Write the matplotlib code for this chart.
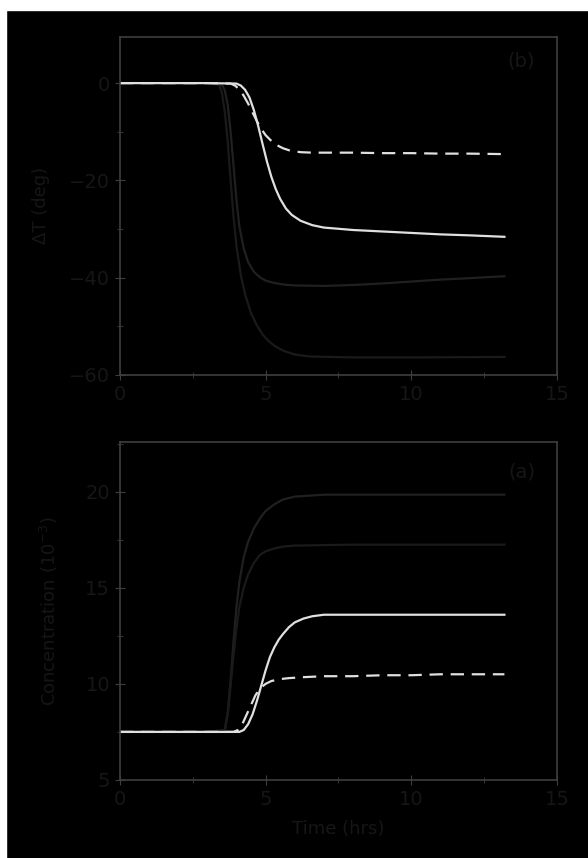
import matplotlib
matplotlib.use("Agg")
import matplotlib.pyplot as plt
from matplotlib.patches import Rectangle
from matplotlib.ticker import MultipleLocator

# top panel: temperature change (deg) vs time (hrs)
t_dash_a = [0, 1, 2, 3, 3.8, 3.95, 4.1, 4.25, 4.4, 4.55, 4.7, 4.85, 5.0, 5.2, 5.4, 5.6, 5.85, 6.2, 6.6, 7, 8, 9, 10, 11, 12, 13.2]
v_dash_a = [0, 0, 0, 0, -0.1, -0.5, -1.3, -2.6, -4.2, -6.0, -7.8, -9.4, -10.7, -11.9, -12.8, -13.4, -13.9, -14.2, -14.3, -14.3, -14.3, -14.4, -14.4, -14.5, -14.5, -14.6]
t_solid_a = [0, 1, 2, 3, 4.0, 4.15, 4.3, 4.45, 4.6, 4.75, 4.9, 5.05, 5.2, 5.35, 5.5, 5.7, 5.9, 6.2, 6.6, 7, 8, 9, 10, 11, 12, 13.2]
v_solid_a = [0, 0, 0, 0, -0.1, -0.5, -1.4, -3.0, -5.6, -8.9, -12.6, -16.2, -19.3, -21.8, -23.8, -25.8, -27.1, -28.3, -29.2, -29.7, -30.2, -30.5, -30.8, -31.1, -31.3, -31.6]
t_dark1_a = [0, 1, 2, 3, 3.5, 3.6, 3.7, 3.8, 3.9, 4.0, 4.1, 4.25, 4.4, 4.6, 4.8, 5.0, 5.3, 5.6, 6, 7, 8, 9, 10, 11, 12, 13.2]
v_dark1_a = [0, 0, 0, 0, -0.3, -1.5, -4.5, -10, -17, -24, -29.5, -34, -36.8, -38.8, -39.9, -40.6, -41.1, -41.4, -41.6, -41.7, -41.5, -41.2, -40.8, -40.4, -40.1, -39.7]
t_dark2_a = [0, 1, 2, 3, 3.4, 3.5, 3.6, 3.7, 3.8, 3.9, 4.0, 4.15, 4.3, 4.5, 4.7, 4.9, 5.1, 5.3, 5.6, 6, 6.5, 8, 10, 13.2]
v_dark2_a = [0, 0, 0, 0, -0.3, -2, -6, -12, -20, -27.5, -33.5, -39.5, -43.5, -47.3, -49.8, -51.7, -53.0, -54.0, -55.0, -55.8, -56.2, -56.4, -56.4, -56.3]

# bottom panel: concentration vs time (hrs)
t_dash_b = [0, 1, 2, 3, 3.9, 4.05, 4.2, 4.35, 4.5, 4.65, 4.8, 5.0, 5.2, 5.5, 5.8, 6.3, 7, 8, 9, 10, 11, 12, 13.2]
v_dash_b = [7.5, 7.5, 7.5, 7.5, 7.5, 7.6, 7.9, 8.4, 8.9, 9.4, 9.75, 10.0, 10.15, 10.25, 10.3, 10.35, 10.4, 10.4, 10.45, 10.45, 10.5, 10.5, 10.5]
t_solid_b = [0, 1, 2, 3, 4.1, 4.25, 4.4, 4.55, 4.7, 4.85, 5.0, 5.15, 5.3, 5.45, 5.6, 5.8, 6.0, 6.3, 6.6, 7, 8, 10, 12, 13.2]
v_solid_b = [7.5, 7.5, 7.5, 7.5, 7.5, 7.6, 7.9, 8.4, 9.1, 9.9, 10.7, 11.4, 11.9, 12.3, 12.6, 12.95, 13.2, 13.4, 13.52, 13.6, 13.6, 13.6, 13.6, 13.6]
t_dark1_b = [0, 1, 2, 3, 3.6, 3.7, 3.8, 3.9, 4.0, 4.1, 4.25, 4.4, 4.6, 4.8, 5.0, 5.3, 5.6, 6, 7, 9, 11, 13.2]
v_dark1_b = [7.5, 7.5, 7.5, 7.5, 7.6, 8.5, 10.2, 12.2, 14.0, 15.3, 16.6, 17.4, 18.1, 18.6, 19.0, 19.35, 19.6, 19.75, 19.85, 19.85, 19.85, 19.85]
t_dark2_b = [0, 1, 2, 3, 3.6, 3.7, 3.8, 3.9, 4.0, 4.1, 4.25, 4.4, 4.6, 4.8, 5.0, 5.3, 5.6, 6, 8, 10, 13.2]
v_dark2_b = [7.5, 7.5, 7.5, 7.5, 7.6, 8.4, 9.9, 11.5, 12.9, 14.0, 15.0, 15.7, 16.3, 16.7, 16.9, 17.05, 17.15, 17.2, 17.25, 17.25, 17.25]

text_col = "#161616"
spine_col = "#3e3e3e"
white = "#e0e0e0"

fig = plt.figure(figsize=(5.88, 8.58), dpi=100, facecolor="black")
fig.add_artist(Rectangle((0, 1 - 10 / 858), 1, 10 / 858, transform=fig.transFigure, color="white", zorder=10))
fig.add_artist(Rectangle((0, 0), 6 / 588, 1, transform=fig.transFigure, color="white", zorder=10))

ax1 = fig.add_axes([0.204, 0.563, 0.743, 0.394])
ax2 = fig.add_axes([0.204, 0.091, 0.743, 0.394])

ax1.plot(t_dark2_a, v_dark2_a, color="#1a1a1a", lw=1.6)
ax1.plot(t_dark1_a, v_dark1_a, color="#202020", lw=1.6)
ax1.plot(t_solid_a, v_solid_a, color=white, lw=1.6)
ax1.plot(t_dash_a, v_dash_a, color=white, lw=1.6, dashes=(6, 3.5))

ax2.plot(t_dark1_b, v_dark1_b, color="#202020", lw=1.6)
ax2.plot(t_dark2_b, v_dark2_b, color="#1a1a1a", lw=1.6)
ax2.plot(t_solid_b, v_solid_b, color=white, lw=1.6)
ax2.plot(t_dash_b, v_dash_b, color=white, lw=1.6, dashes=(6, 3.5))

ax1.set_ylim(-60, 9.5)
ax1.yaxis.set_major_locator(MultipleLocator(20))
ax1.yaxis.set_minor_locator(MultipleLocator(10))
ax1.set_ylabel("ΔT (deg)", color=text_col, fontsize=13, labelpad=14)
ax1.text(0.95, 0.93, "(b)", transform=ax1.transAxes, color=text_col, fontsize=14, ha="right", va="center")

ax2.set_ylim(5, 22.6)
ax2.yaxis.set_major_locator(MultipleLocator(5))
ax2.yaxis.set_minor_locator(MultipleLocator(2.5))
ax2.set_ylabel("Concentration (10$^{-3}$)", color=text_col, fontsize=13, labelpad=18)
ax2.set_xlabel("Time (hrs)", color=text_col, fontsize=13, labelpad=8)
ax2.text(0.95, 0.91, "(a)", transform=ax2.transAxes, color=text_col, fontsize=14, ha="right", va="center")

for ax in (ax1, ax2):
    ax.set_facecolor("black")
    ax.set_xlim(0, 15)
    ax.xaxis.set_major_locator(MultipleLocator(5))
    ax.xaxis.set_minor_locator(MultipleLocator(2.5))
    for s in ax.spines.values():
        s.set_color(spine_col)
        s.set_linewidth(1.2)
    ax.tick_params(which="both", direction="inout", colors=spine_col, labelcolor=text_col, labelsize=14)
    ax.tick_params(which="major", length=7)
    ax.tick_params(which="minor", length=5)

fig.savefig("out.png", dpi=100, facecolor="black")
